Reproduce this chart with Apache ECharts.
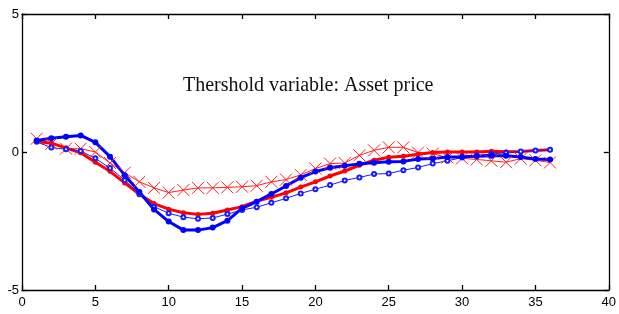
<html>

<head>
    <meta charset="utf-8" />
    <style>
        html, body { margin: 0; padding: 0; background: #fff; }
    </style>
</head>

<body>
    <div id="chart" style="width:619px;height:314px"></div>
    <script src="https://cdn.jsdelivr.net/npm/echarts@6/dist/echarts.min.js"></script>
    <script>
        // horizon 1..36
        var periods = [];
        for (var i = 1; i <= 36; i++) periods.push(i);

        // red, thick line with filled dots
        var redSolid = [0.38, 0.32, 0.15, -0.03, -0.37, -0.70, -1.12, -1.53, -1.87, -2.07, -2.20, -2.26,
            -2.22, -2.10, -1.98, -1.78, -1.64, -1.48, -1.27, -1.08, -0.87, -0.69, -0.48, -0.30,
            -0.19, -0.15, -0.08, -0.02, 0.00, 0.00, 0.00, 0.03, 0.01, 0.02, 0.05, 0.08];
        // red, thin line with x markers
        var redCross = [0.48, 0.30, 0.12, 0.12, 0.00, -0.40, -0.75, -1.08, -1.30, -1.47, -1.38, -1.30,
            -1.30, -1.28, -1.26, -1.22, -1.08, -1.00, -0.83, -0.60, -0.42, -0.40, -0.12, 0.06,
            0.17, 0.17, -0.02, -0.06, -0.20, -0.23, -0.27, -0.32, -0.37, -0.24, -0.30, -0.38];
        // blue, thick line with filled dots
        var blueSolid = [0.42, 0.50, 0.55, 0.60, 0.35, -0.17, -0.84, -1.45, -2.08, -2.52, -2.83, -2.83,
            -2.74, -2.49, -2.04, -1.80, -1.52, -1.23, -0.93, -0.71, -0.57, -0.50, -0.43, -0.39,
            -0.35, -0.34, -0.25, -0.24, -0.18, -0.17, -0.15, -0.14, -0.14, -0.18, -0.25, -0.27];
        // blue, thin line with open circles
        var blueOpen = [0.37, 0.16, 0.10, 0.04, -0.23, -0.58, -1.02, -1.53, -1.98, -2.22, -2.36, -2.42,
            -2.39, -2.25, -2.10, -2.00, -1.84, -1.68, -1.50, -1.35, -1.20, -1.03, -0.92, -0.80,
            -0.78, -0.66, -0.56, -0.42, -0.32, -0.20, -0.13, -0.07, -0.03, 0.02, 0.05, 0.08];

        var annotation = 'Thershold variable: Asset price';

        function pairs(vals) {
            return vals.map(function (v, i) { return [periods[i], v]; });
        }

        var labelFont = {
            color: '#000',
            fontFamily: 'Liberation Sans Narrow, Liberation Sans, Arial',
            fontSize: 13
        };
        var lineStyle = { color: '#000', width: 1.3 };

        function axisCommon(extra) {
            return Object.assign({
                type: 'value',
                axisLine: { onZero: false, lineStyle: lineStyle },
                axisTick: { inside: true, length: 5, lineStyle: lineStyle },
                splitLine: { show: false }
            }, extra);
        }

        var chart = echarts.init(document.getElementById('chart'));
        var option = {
            animation: false,
            backgroundColor: '#fff',
            grid: { left: 22, right: 5, top: 14, bottom: 24 },
            graphic: [{
                type: 'text',
                left: 183,
                top: 76,
                style: {
                    text: annotation,
                    fill: '#111',
                    font: '20px "Liberation Serif", "DejaVu Serif", serif'
                }
            }],
            xAxis: [
                axisCommon({ min: 0, max: 40, interval: 5, position: 'bottom',
                    axisLabel: Object.assign({ margin: 6 }, labelFont) }),
                axisCommon({ min: 0, max: 40, interval: 5, position: 'top',
                    axisLabel: { show: false } })
            ],
            yAxis: [
                axisCommon({ min: -5, max: 5, interval: 5, position: 'left',
                    axisLabel: Object.assign({ margin: 3 }, labelFont) }),
                axisCommon({ min: -5, max: 5, interval: 5, position: 'right',
                    axisLabel: { show: false } })
            ],
            series: [
                {
                    type: 'line', data: pairs(redCross), showAllSymbol: true,
                    symbol: 'path://M0,0L10,10M10,0L0,10', symbolSize: 12,
                    lineStyle: { color: '#ff2020', width: 1 },
                    itemStyle: { color: 'none', borderColor: '#ff2020', borderWidth: 1 }
                },
                {
                    type: 'line', data: pairs(redSolid), showAllSymbol: true,
                    symbol: 'circle', symbolSize: 5,
                    lineStyle: { color: '#ff0000', width: 3 },
                    itemStyle: { color: '#ff0000' }
                },
                {
                    type: 'line', data: pairs(blueOpen), showAllSymbol: true,
                    symbol: 'emptyCircle', symbolSize: 4,
                    lineStyle: { color: '#1a1aff', width: 1 },
                    itemStyle: { color: '#1a1aff', borderColor: '#1a1aff', borderWidth: 1 }
                },
                {
                    type: 'line', data: pairs(blueSolid), showAllSymbol: true,
                    symbol: 'circle', symbolSize: 6,
                    lineStyle: { color: '#0000ff', width: 3 },
                    itemStyle: { color: '#0000ff' }
                }
            ]
        };
        chart.setOption(option);
    </script>
</body>

</html>
